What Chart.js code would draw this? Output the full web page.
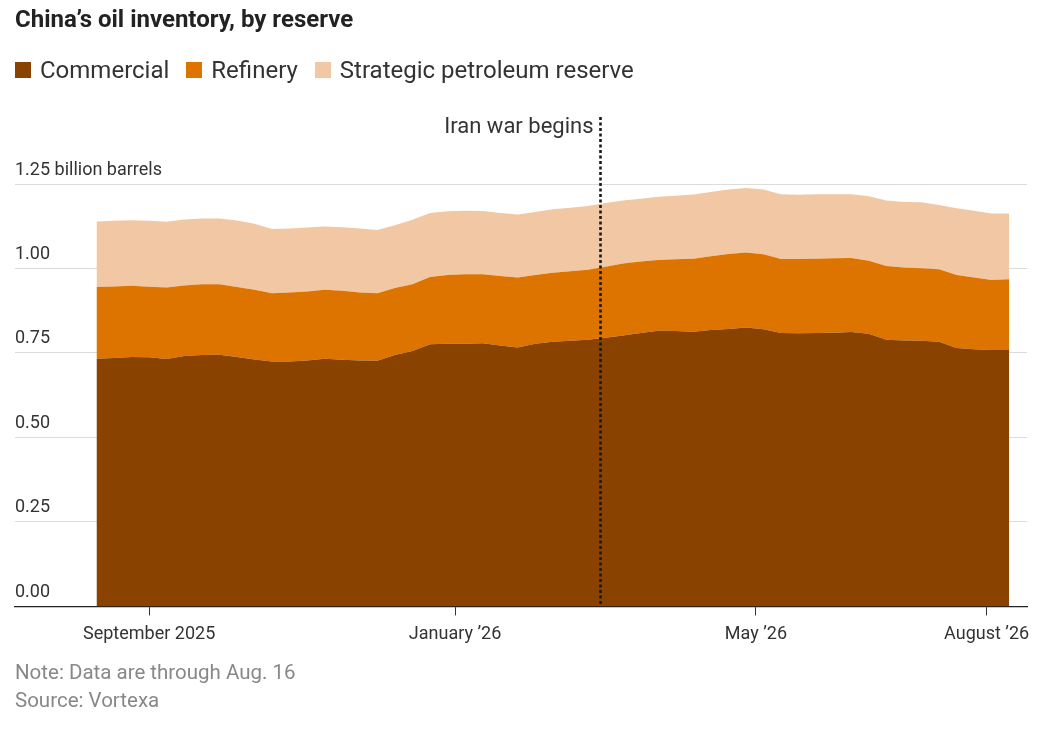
<!DOCTYPE html>
<html>
<head>
<meta charset="utf-8">
<script src="https://cdn.jsdelivr.net/npm/chart.js@4"></script>
<style>
html,body{margin:0;padding:0;background:#fff;}
body{width:1063px;height:732px;position:relative;overflow:hidden;font-family:Roboto,'Noto Sans',sans-serif;color:#333;}
#title{position:absolute;left:15px;top:5px;font-size:24px;font-weight:700;color:#222;white-space:nowrap;}
#legend{position:absolute;left:15px;top:56px;display:flex;align-items:center;font-size:24px;color:#333;white-space:nowrap;}
.item{display:flex;align-items:center;margin-right:17px;}
.sw{width:16px;height:16px;margin-right:9px;display:inline-block;}
#chartbox{position:absolute;left:0;top:0;width:1063px;height:732px;}
#note{position:absolute;left:15px;top:658px;font-size:20.5px;color:#888;line-height:28px;white-space:nowrap;}
</style>
</head>
<body>
<div id="chartbox"><canvas id="c"></canvas></div>
<div id="title">China’s oil inventory, by reserve</div>
<div id="legend"></div>
<div id="note">Note: Data are through Aug. 16<br>Source: Vortexa</div>
<script>
// ---- Data ----
const dates = [
 '2025-08-11','2025-08-18','2025-08-25','2025-09-01','2025-09-08','2025-09-15','2025-09-22','2025-09-29',
 '2025-10-06','2025-10-13','2025-10-20','2025-10-27','2025-11-03','2025-11-10','2025-11-17','2025-11-24',
 '2025-12-01','2025-12-08','2025-12-15','2025-12-22','2025-12-29','2026-01-05','2026-01-12','2026-01-19',
 '2026-01-26','2026-02-02','2026-02-09','2026-02-16','2026-02-23','2026-03-02','2026-03-09','2026-03-16',
 '2026-03-23','2026-03-30','2026-04-06','2026-04-13','2026-04-20','2026-04-27','2026-05-04','2026-05-11',
 '2026-05-18','2026-05-25','2026-06-01','2026-06-08','2026-06-15','2026-06-22','2026-06-29','2026-07-06',
 '2026-07-13','2026-07-20','2026-07-27','2026-08-03','2026-08-10'
];
const commercial = [0.733,0.735,0.738,0.737,0.732,0.741,0.744,0.745,0.738,0.731,
 0.725,0.725,0.728,0.733,0.730,0.728,0.727,0.744,0.756,0.776,
 0.777,0.777,0.779,0.772,0.766,0.777,0.783,0.786,0.789,0.795,
 0.802,0.809,0.816,0.815,0.813,0.818,0.821,0.825,0.820,0.809,
 0.808,0.809,0.810,0.812,0.807,0.789,0.787,0.786,0.783,0.765,
 0.761,0.759,0.759];
const refinery = [0.212,0.212,0.211,0.209,0.212,0.209,0.209,0.208,0.207,0.206,
 0.202,0.204,0.204,0.204,0.204,0.201,0.200,0.198,0.197,0.199,
 0.204,0.206,0.204,0.206,0.207,0.204,0.204,0.206,0.207,0.210,
 0.213,0.212,0.209,0.212,0.216,0.218,0.222,0.222,0.222,0.219,
 0.220,0.220,0.220,0.219,0.216,0.218,0.216,0.215,0.215,0.216,
 0.212,0.207,0.209];
const strategic = [0.194,0.194,0.194,0.195,0.194,0.195,0.195,0.195,0.197,0.195,
 0.190,0.189,0.189,0.187,0.188,0.189,0.187,0.186,0.191,0.189,
 0.188,0.188,0.187,0.186,0.187,0.186,0.188,0.188,0.189,0.189,
 0.186,0.185,0.187,0.188,0.190,0.190,0.191,0.191,0.192,0.192,
 0.190,0.191,0.190,0.189,0.191,0.194,0.194,0.195,0.190,0.197,
 0.198,0.197,0.195];
const seriesNames = ['Commercial','Refinery','Strategic petroleum reserve'];
const tickDates = ['2025-09-01','2026-01-01','2026-05-01','2026-08-01'];
const tickLabels = ['September 2025','January ’26','May ’26','August ’26'];
const yTicks = [0,0.25,0.5,0.75,1.0,1.25];
const yUnit = ' billion barrels';
const warDate = '2026-02-28';
const warLabel = 'Iran war begins';

// ---- Styles ----
const colors = ['#8a4200','#dd7400','#f2c7a3'];
const FONT = 'Roboto';

const base = Date.parse('2025-09-01T00:00:00Z');
const dayOf = s => (Date.parse(s + 'T00:00:00Z') - base) / 86400000;

// HTML legend
const lg = document.getElementById('legend');
seriesNames.forEach((n,i)=>{
  const it = document.createElement('div'); it.className='item';
  const sw = document.createElement('span'); sw.className='sw'; sw.style.background = colors[i];
  const tx = document.createElement('span'); tx.textContent = n;
  it.appendChild(sw); it.appendChild(tx); lg.appendChild(it);
});

const series = [commercial, refinery, strategic];
const datasets = series.map((vals,i)=>({
  label: seriesNames[i],
  data: vals.map((v,j)=>({x: dayOf(dates[j]), y: v})),
  backgroundColor: colors[i],
  borderColor: colors[i],
  borderWidth: 0,
  pointRadius: 0,
  fill: i === 0 ? 'origin' : '-1',
  tension: 0
}));

const warLine = {
  id: 'warLine',
  afterDatasetsDraw(chart){
    const {ctx, chartArea, scales} = chart;
    const px = Math.round(scales.x.getPixelForValue(dayOf(warDate))) + 0.5;
    ctx.save();
    ctx.strokeStyle = '#1a1a1a';
    ctx.lineWidth = 2.6;
    ctx.setLineDash([3, 2.5]);
    ctx.beginPath();
    ctx.moveTo(px, chartArea.top - 67);
    ctx.lineTo(px, chartArea.bottom);
    ctx.stroke();
    ctx.setLineDash([]);
    ctx.font = '22px ' + FONT;
    ctx.fillStyle = '#333';
    ctx.textAlign = 'right';
    ctx.textBaseline = 'middle';
    ctx.fillText(warLabel, px - 7, chartArea.top - 57);
    ctx.restore();
  }
};

new Chart(document.getElementById('c'), {
  type: 'line',
  data: { datasets },
  plugins: [warLine],
  options: {
    responsive: true,
    maintainAspectRatio: false,
    animation: false,
    layout: { padding: { top: 184, left: 15, right: 36, bottom: 79 } },
    plugins: { legend: { display: false }, tooltip: { enabled: false } },
    elements: { line: { borderWidth: 0 } },
    scales: {
      x: {
        type: 'linear',
        min: -53.5,
        max: 350.1,
        afterBuildTicks: s => { s.ticks = tickDates.map(d => ({ value: dayOf(d) })); },
        ticks: {
          autoSkip: false, maxRotation: 0, padding: 8,
          color: '#333', font: { family: FONT, size: 18 },
          callback: (v, i) => tickLabels[i]
        },
        grid: { drawOnChartArea: false, drawTicks: true, tickLength: 9, color: '#333', lineWidth: 1 },
        border: { display: true, color: '#222', width: 1.2 }
      },
      y: {
        stacked: true,
        min: 0,
        max: 1.25,
        afterBuildTicks: s => { s.ticks = yTicks.map(v => ({ value: v })); },
        ticks: {
          mirror: true, padding: 0, labelOffset: -14,
          color: '#333', font: { family: FONT, size: 18 },
          callback: v => v.toFixed(2) + (v === yTicks[yTicks.length-1] ? yUnit : '')
        },
        grid: { drawTicks: false, color: ctx => ctx.tick && ctx.tick.value === 0 ? '#222' : '#dcdcdc', lineWidth: 1 },
        border: { display: false }
      }
    }
  }
});
</script>
</body>
</html>
